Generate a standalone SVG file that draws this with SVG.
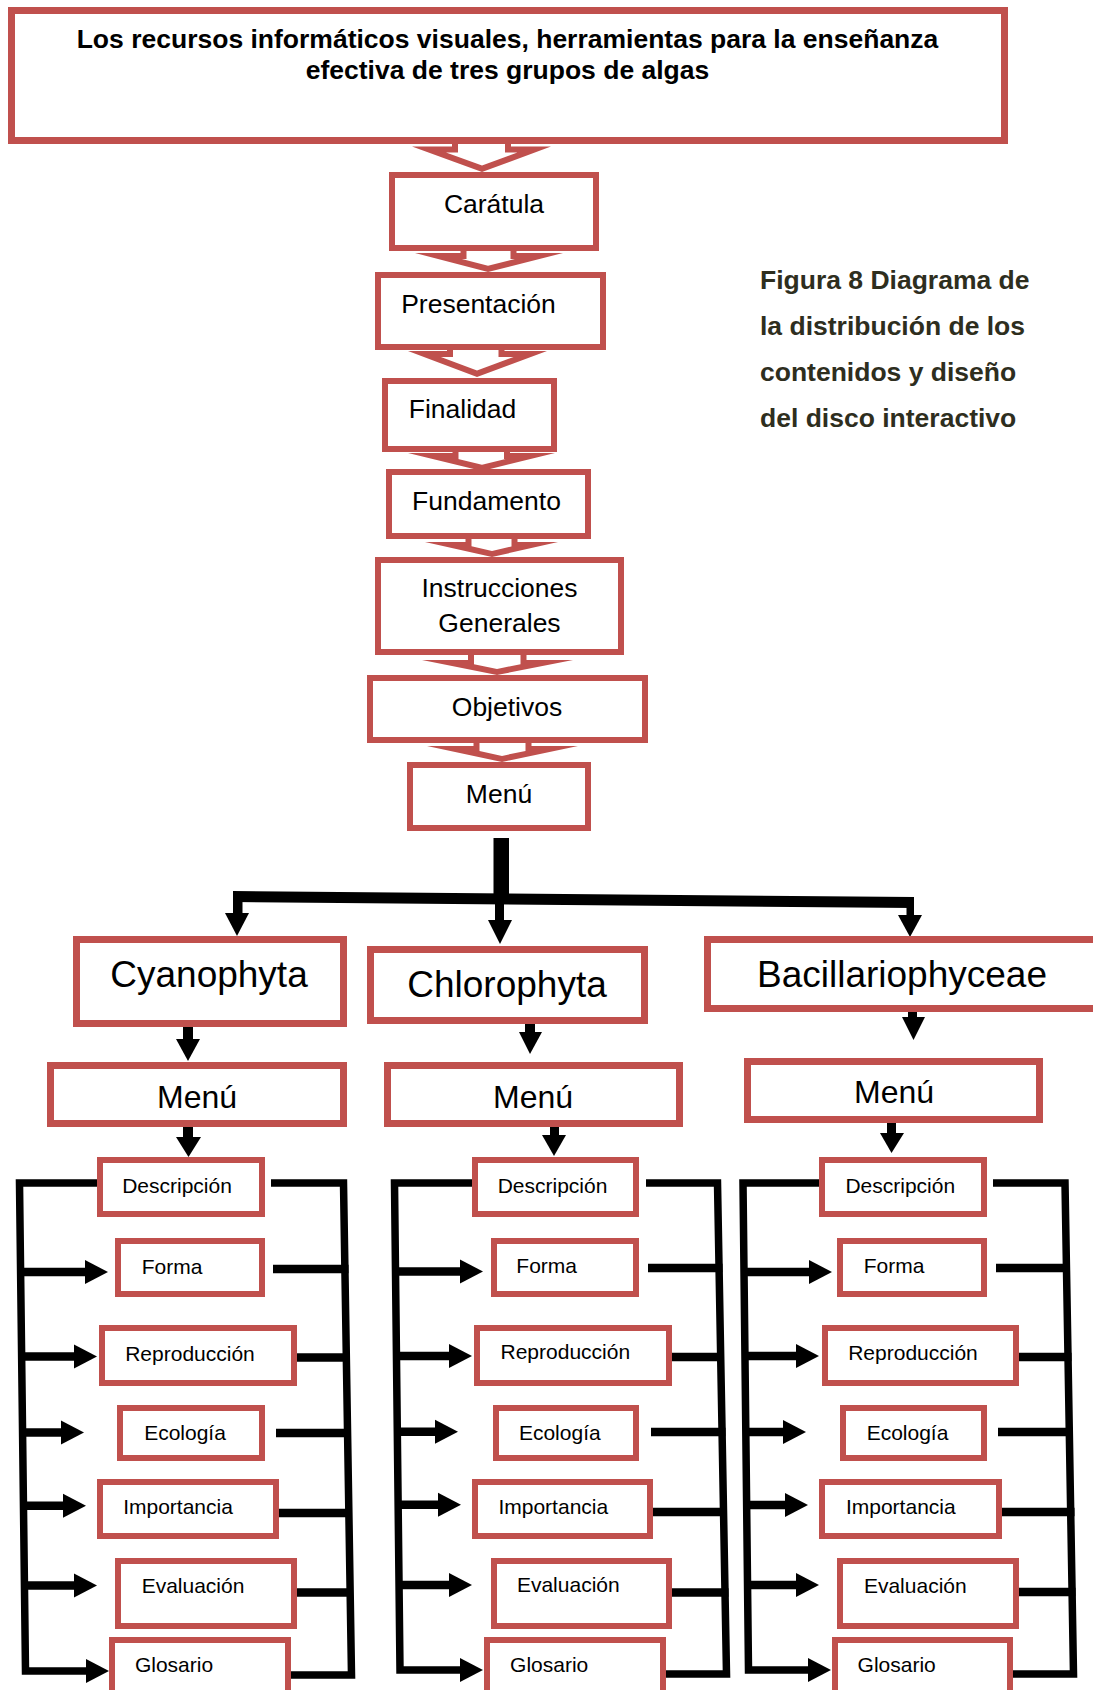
<svg xmlns="http://www.w3.org/2000/svg" width="1093" height="1690" viewBox="0 0 1093 1690">
  <defs>
    <style>
      .box { fill: #ffffff; stroke: #C0504D; stroke-width: 6; }
      .box7 { fill: #ffffff; stroke: #C0504D; stroke-width: 7; }
      .barrow-out { fill: #C0504D; }
      .barrow-in { fill: #ffffff; }
      .blk { fill: none; stroke: #000000; stroke-width: 7.5; stroke-linejoin: miter; }
      .shaft { fill: none; stroke: #000000; stroke-width: 8.5; }
      .vshaft { fill: #000000; }
      .head { fill: #000000; }
      text { font-family: "Liberation Sans", Arial, sans-serif; fill: #000000; text-anchor: middle; }
      .title { font-size: 26.5px; font-weight: bold; }
      .flow { font-size: 26.5px; }
      .group { font-size: 37px; }
      .menu { font-size: 32px; }
      .sub { font-size: 21px; }
      .caption { font-size: 26.5px; font-weight: bold; fill: #2E2E1E; text-anchor: start; }
    </style>
  </defs>
  <rect width="1093" height="1690" fill="#ffffff"/>

  <!-- Connectors: hollow block arrows down the main sequence, then the black tree and brackets -->
  <g id="connectors">
    <g id="block-arrows">
      <polygon class="barrow-out" points="452,130 452,146.5 412,146.5 482,172 551,146.5 511,146.5 511,130"/>
      <polygon class="barrow-in" points="458,130 458,152.5 446,152.5 482,165.6 517.4,152.5 505,152.5 505,130"/>

      <polygon class="barrow-out" points="460.5,240 460.5,253 415,253 488,272 563,253 516.5,253 516.5,240"/>
      <polygon class="barrow-in" points="466.5,240 466.5,259 461.9,259 488,265.8 514.9,259 510.5,259 510.5,240"/>

      <polygon class="barrow-out" points="447,335 447,351 408,351 477,377 547,351 504.5,351 504.5,335"/>
      <polygon class="barrow-in" points="453,335 453,357 440.9,357 477,370.6 513.6,357 498.5,357 498.5,335"/>

      <polygon class="barrow-out" points="452.5,440 452.5,453 408,453 482,471 555,453 510,453 510,440"/>
      <polygon class="barrow-in" points="458.5,440 458.5,459 458.1,459 482,464.8 505.6,459 504,459 504,440"/>

      <polygon class="barrow-out" points="465.5,530 465.5,542 425,542 492,557 558,542 517.5,542 517.5,530"/>
      <polygon class="barrow-in" points="471.5,530 471.5,546.3 492,550.9 511.5,546.4 511.5,530"/>

      <polygon class="barrow-out" points="468,645 468,660 422,660 497,675 573,660 526.5,660 526.5,645"/>
      <polygon class="barrow-in" points="474,645 474,664.3 497,668.9 520.5,664.2 520.5,645"/>

      <polygon class="barrow-out" points="473.5,730 473.5,746 427,746 502,762 578,746 531.5,746 531.5,730"/>
      <polygon class="barrow-in" points="479.5,730 479.5,751.1 502,755.9 525.5,750.9 525.5,730"/>
    </g>

    <g id="tree">
      <rect class="vshaft" x="493.5" y="838" width="15.5" height="62"/>
      <polygon class="vshaft" points="233,891 914,897 914,908 233,902"/>
      <!-- branch to Cyanophyta -->
      <rect class="vshaft" x="233" y="898" width="9.5" height="17"/>
      <polygon class="head" points="225,913 249,913 237,936"/>
      <!-- branch to Chlorophyta -->
      <rect class="vshaft" x="495" y="900" width="9" height="22"/>
      <polygon class="head" points="488,920 512,920 500,944"/>
      <!-- branch to Bacillariophyceae -->
      <rect class="vshaft" x="906.5" y="905" width="7.5" height="12"/>
      <polygon class="head" points="898,915 922,915 910,937"/>

      <!-- group to menu -->
      <rect class="vshaft" x="183" y="1024" width="10" height="17"/>
      <polygon class="head" points="176,1039 200,1039 188,1061"/>
      <rect class="vshaft" x="183" y="1124" width="10" height="15"/>
      <polygon class="head" points="176,1137 201,1137 188.5,1157"/>

      <rect class="vshaft" x="525" y="1021" width="10" height="13"/>
      <polygon class="head" points="519,1032 542,1032 530,1054"/>
      <rect class="vshaft" x="550" y="1124" width="9" height="13"/>
      <polygon class="head" points="542,1135 566,1135 554,1156"/>

      <rect class="vshaft" x="908" y="1009" width="9" height="10"/>
      <polygon class="head" points="902,1017 925,1017 913.5,1040"/>
      <rect class="vshaft" x="887" y="1120" width="9" height="15"/>
      <polygon class="head" points="880,1133 904,1133 891.5,1153"/>
    </g>

    <!-- Cyanophyta brackets -->
    <g id="brackets-cyanophyta">
      <path class="blk" d="M100,1183 H19.5 L25.5,1671 H87"/>
      <polygon class="head" points="86,1659 109,1671 86,1683"/>
      <line class="shaft" x1="18.6" y1="1272" x2="86" y2="1272"/>
      <polygon class="head" points="85,1260 108,1272 85,1284"/>
      <line class="shaft" x1="19.6" y1="1356.6" x2="75" y2="1356.6"/>
      <polygon class="head" points="74,1344.6 97,1356.6 74,1368.6"/>
      <line class="shaft" x1="20.6" y1="1432.4" x2="62" y2="1432.4"/>
      <polygon class="head" points="61,1420.4 84,1432.4 61,1444.4"/>
      <line class="shaft" x1="21.5" y1="1505.7" x2="64" y2="1505.7"/>
      <polygon class="head" points="63,1493.7 86,1505.7 63,1517.7"/>
      <line class="shaft" x1="22.5" y1="1585.6" x2="75" y2="1585.6"/>
      <polygon class="head" points="74,1573.6 97,1585.6 74,1597.6"/>

      <path class="blk" d="M271,1183 H343.5 L351.5,1675 H288"/>
      <line class="shaft" x1="273" y1="1269" x2="348.5" y2="1269"/>
      <line class="shaft" x1="294" y1="1357.6" x2="349" y2="1357.6"/>
      <line class="shaft" x1="276" y1="1433" x2="350.5" y2="1433"/>
      <line class="shaft" x1="276" y1="1513" x2="351.5" y2="1513"/>
      <line class="shaft" x1="294" y1="1592.5" x2="353" y2="1592.5"/>
    </g>

    <!-- Chlorophyta brackets -->
    <g id="brackets-chlorophyta">
      <path class="blk" d="M475,1183 H394.5 L400,1670 H461"/>
      <polygon class="head" points="460,1658 483,1670 460,1682"/>
      <line class="shaft" x1="393.5" y1="1271.6" x2="462" y2="1271.6"/>
      <polygon class="head" points="460,1259.6 483,1271.6 460,1283.6"/>
      <line class="shaft" x1="394.5" y1="1356" x2="450" y2="1356"/>
      <polygon class="head" points="449,1344 472,1356 449,1368"/>
      <line class="shaft" x1="395.3" y1="1431.7" x2="436" y2="1431.7"/>
      <polygon class="head" points="435,1419.7 458,1431.7 435,1443.7"/>
      <line class="shaft" x1="396.1" y1="1504.7" x2="439" y2="1504.7"/>
      <polygon class="head" points="438,1492.7 461,1504.7 438,1516.7"/>
      <line class="shaft" x1="397" y1="1585" x2="450" y2="1585"/>
      <polygon class="head" points="449,1573 472,1585 449,1597"/>

      <path class="blk" d="M646,1183 H717.5 L726.5,1674 H663"/>
      <line class="shaft" x1="648" y1="1268" x2="722.5" y2="1268"/>
      <line class="shaft" x1="669" y1="1357" x2="724" y2="1357"/>
      <line class="shaft" x1="651" y1="1432" x2="725.5" y2="1432"/>
      <line class="shaft" x1="650" y1="1512" x2="727" y2="1512"/>
      <line class="shaft" x1="669" y1="1592.5" x2="728.5" y2="1592.5"/>
    </g>

    <!-- Bacillariophyceae brackets -->
    <g id="brackets-bacillariophyceae">
      <path class="blk" d="M822,1183 H743 L748.5,1670 H809"/>
      <polygon class="head" points="808,1658 831,1670 808,1682"/>
      <line class="shaft" x1="742" y1="1272" x2="810" y2="1272"/>
      <polygon class="head" points="809,1260 832,1272 809,1284"/>
      <line class="shaft" x1="743" y1="1356" x2="797" y2="1356"/>
      <polygon class="head" points="796,1344 819,1356 796,1368"/>
      <line class="shaft" x1="743.8" y1="1432" x2="784" y2="1432"/>
      <polygon class="head" points="783,1420 806,1432 783,1444"/>
      <line class="shaft" x1="744.6" y1="1505" x2="786" y2="1505"/>
      <polygon class="head" points="785,1493 808,1505 785,1517"/>
      <line class="shaft" x1="745.5" y1="1585" x2="797" y2="1585"/>
      <polygon class="head" points="796,1573 819,1585 796,1597"/>

      <path class="blk" d="M993,1183 H1065 L1073.5,1674 H1010"/>
      <line class="shaft" x1="996" y1="1268" x2="1070" y2="1268"/>
      <line class="shaft" x1="1016" y1="1357" x2="1071.5" y2="1357"/>
      <line class="shaft" x1="998" y1="1432" x2="1073" y2="1432"/>
      <line class="shaft" x1="999" y1="1512" x2="1074.5" y2="1512"/>
      <line class="shaft" x1="1016" y1="1592" x2="1075.5" y2="1592"/>
    </g>
  </g>

  <!-- Title -->
  <g id="node-title">
    <rect class="box7" x="11.5" y="10.5" width="993" height="130"/>
    <text class="title" x="507.5" y="48">Los recursos informáticos visuales, herramientas para la enseñanza</text>
    <text class="title" x="507.5" y="79">efectiva de tres grupos de algas</text>
  </g>

  <!-- Main sequence -->
  <g id="node-caratula">
    <rect class="box" x="392" y="175" width="204" height="73"/>
    <text class="flow" x="494" y="212.5">Carátula</text>
  </g>
  <g id="node-presentacion">
    <rect class="box" x="378" y="275" width="225" height="72"/>
    <text class="flow" x="478.5" y="313">Presentación</text>
  </g>
  <g id="node-finalidad">
    <rect class="box" x="385" y="381" width="169" height="68"/>
    <text class="flow" x="462.5" y="418">Finalidad</text>
  </g>
  <g id="node-fundamento">
    <rect class="box" x="389" y="472" width="199" height="64"/>
    <text class="flow" x="486.5" y="510">Fundamento</text>
  </g>
  <g id="node-instrucciones">
    <rect class="box" x="378" y="560" width="243" height="92"/>
    <text class="flow" x="499.5" y="597">Instrucciones</text>
    <text class="flow" x="499.5" y="632">Generales</text>
  </g>
  <g id="node-objetivos">
    <rect class="box" x="370" y="678" width="275" height="62"/>
    <text class="flow" x="507" y="716">Objetivos</text>
  </g>
  <g id="node-menu">
    <rect class="box" x="410" y="765" width="178" height="63"/>
    <text class="flow" x="499" y="803">Menú</text>
  </g>

  <!-- Caption -->
  <g id="caption">
    <text class="caption" x="760" y="289">Figura 8 Diagrama de</text>
    <text class="caption" x="760" y="335">la distribución de los</text>
    <text class="caption" x="760" y="381">contenidos y diseño</text>
    <text class="caption" x="760" y="427">del disco interactivo</text>
  </g>

  <!-- Groups -->
  <g id="node-cyanophyta">
    <rect class="box7" x="76.5" y="939.5" width="267" height="84"/>
    <text class="group" x="209" y="987">Cyanophyta</text>
  </g>
  <g id="node-chlorophyta">
    <rect class="box7" x="370.5" y="949.5" width="274" height="71"/>
    <text class="group" x="507" y="997">Chlorophyta</text>
  </g>
  <g id="node-bacillariophyceae">
    <rect class="box7" x="707.5" y="939.5" width="400" height="69"/>
    <text class="group" x="902" y="987">Bacillariophyceae</text>
  </g>

  <g id="node-menu-cyanophyta">
    <rect class="box7" x="50.5" y="1065.5" width="293" height="58"/>
    <text class="menu" x="197" y="1108">Menú</text>
  </g>
  <g id="node-menu-chlorophyta">
    <rect class="box7" x="387.5" y="1065.5" width="292" height="58"/>
    <text class="menu" x="533" y="1108">Menú</text>
  </g>
  <g id="node-menu-bacillariophyceae">
    <rect class="box7" x="747.5" y="1061.5" width="292" height="58"/>
    <text class="menu" x="894" y="1103">Menú</text>
  </g>

  <!-- Cyanophyta sections -->
  <g id="cy-descripcion"><rect class="box" x="100" y="1160" width="162" height="54"/><text class="sub" x="177" y="1193">Descripción</text></g>
  <g id="cy-forma"><rect class="box" x="118" y="1241" width="144" height="53"/><text class="sub" x="172" y="1274">Forma</text></g>
  <g id="cy-reproduccion"><rect class="box" x="102" y="1328" width="192" height="55"/><text class="sub" x="190" y="1360.5">Reproducción</text></g>
  <g id="cy-ecologia"><rect class="box" x="120" y="1408" width="142" height="50"/><text class="sub" x="185" y="1440">Ecología</text></g>
  <g id="cy-importancia"><rect class="box" x="100" y="1482" width="176" height="54"/><text class="sub" x="178" y="1514">Importancia</text></g>
  <g id="cy-evaluacion"><rect class="box" x="118" y="1561" width="176" height="65"/><text class="sub" x="193" y="1593">Evaluación</text></g>
  <g id="cy-glosario"><rect class="box" x="112" y="1640" width="176" height="70"/><text class="sub" x="174" y="1672">Glosario</text></g>

  <!-- Chlorophyta sections -->
  <g id="ch-descripcion"><rect class="box" x="475" y="1160" width="161" height="54"/><text class="sub" x="552.5" y="1193">Descripción</text></g>
  <g id="ch-forma"><rect class="box" x="494" y="1241" width="142" height="53"/><text class="sub" x="546.7" y="1272.5">Forma</text></g>
  <g id="ch-reproduccion"><rect class="box" x="477" y="1328" width="192" height="55"/><text class="sub" x="565.3" y="1359">Reproducción</text></g>
  <g id="ch-ecologia"><rect class="box" x="496" y="1408" width="140" height="50"/><text class="sub" x="559.8" y="1440">Ecología</text></g>
  <g id="ch-importancia"><rect class="box" x="475" y="1482" width="175" height="54"/><text class="sub" x="553.3" y="1514">Importancia</text></g>
  <g id="ch-evaluacion"><rect class="box" x="494" y="1561" width="175" height="65"/><text class="sub" x="568.3" y="1592">Evaluación</text></g>
  <g id="ch-glosario"><rect class="box" x="487" y="1640" width="176" height="70"/><text class="sub" x="549.2" y="1672">Glosario</text></g>

  <!-- Bacillariophyceae sections -->
  <g id="ba-descripcion"><rect class="box" x="822" y="1160" width="162" height="54"/><text class="sub" x="900.3" y="1193">Descripción</text></g>
  <g id="ba-forma"><rect class="box" x="840" y="1241" width="144" height="53"/><text class="sub" x="894" y="1273">Forma</text></g>
  <g id="ba-reproduccion"><rect class="box" x="825" y="1328" width="191" height="55"/><text class="sub" x="913" y="1360">Reproducción</text></g>
  <g id="ba-ecologia"><rect class="box" x="843" y="1408" width="141" height="50"/><text class="sub" x="907.5" y="1440">Ecología</text></g>
  <g id="ba-importancia"><rect class="box" x="822" y="1482" width="177" height="54"/><text class="sub" x="900.8" y="1514">Importancia</text></g>
  <g id="ba-evaluacion"><rect class="box" x="840" y="1561" width="176" height="65"/><text class="sub" x="915.3" y="1593">Evaluación</text></g>
  <g id="ba-glosario"><rect class="box" x="835" y="1640" width="175" height="70"/><text class="sub" x="896.7" y="1672">Glosario</text></g>
</svg>
